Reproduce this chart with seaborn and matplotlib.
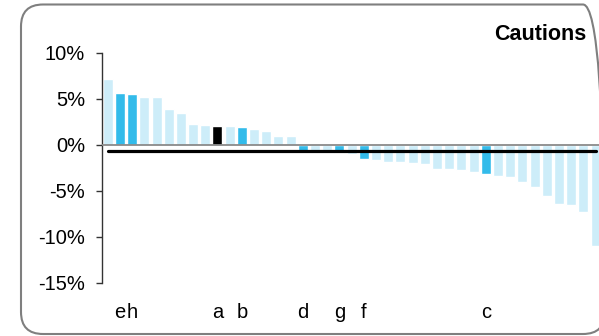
import matplotlib.pyplot as plt
import seaborn as sns
import pandas as pd
from matplotlib.patches import FancyBboxPatch
from matplotlib.ticker import FuncFormatter

# bar values in percent, sorted as in the chart
values = [7.2, 5.65, 5.55, 5.2, 5.2, 3.9, 3.5, 2.3, 2.2, 2.1, 2.1, 2.0, 1.7, 1.5, 1.0, 1.0,
          -0.6, -0.6, -0.65, -0.85, -0.95, -1.5, -1.65, -1.85, -1.85, -1.95,
          -2.05, -2.6, -2.6, -2.7, -2.9, -3.15, -3.4, -3.5, -4.0, -4.6,
          -5.5, -6.4, -6.5, -7.3, -10.95]
# which bars carry a letter label
named = {1: 'e', 2: 'h', 9: 'a', 11: 'b', 16: 'd', 19: 'g', 21: 'f', 31: 'c'}
self_bar = 9
average = -0.62

tick_labels = [named.get(i, '') for i in range(len(values))]
groups = []
for i in range(len(values)):
    if i == self_bar:
        groups.append('self')
    elif i in named:
        groups.append('named')
    else:
        groups.append('peer')

df = pd.DataFrame({'pos': [str(i) for i in range(len(values))], 'value': values, 'group': groups})
colors = {'peer': '#cdedf9', 'named': '#33bbea', 'self': '#000000'}

sns.set_style('white', {'text.color': 'black', 'xtick.color': 'black', 'ytick.color': 'black'})
plt.rcParams['font.family'] = ['Liberation Sans', 'DejaVu Sans']

fig = plt.figure(figsize=(5.99, 3.36), dpi=100)
ax = fig.add_axes([102 / 599, 53 / 336, 500 / 599, 230 / 336])
sns.barplot(data=df, x='pos', y='value', hue='group', palette=colors, dodge=False,
            width=0.82, saturation=1, legend=False, ax=ax)

ax.axhline(0, color='#8a8a8a', lw=1.3, zorder=3)
ax.plot(range(len(values)), [average] * len(values), color='black', lw=2.3, zorder=4)

ax.set_xlim(-0.47, 40.53)
ax.set_ylim(-15, 10)
ax.set_yticks([-15, -10, -5, 0, 5, 10])
ax.yaxis.set_major_formatter(FuncFormatter(lambda v, p: f'{v:.0f}%'))
ax.set_xticks(range(len(values)))
ax.set_xticklabels(tick_labels)
ax.set_xlabel('')
ax.set_ylabel('')

for s in ['top', 'right', 'bottom']:
    ax.spines[s].set_visible(False)
ax.spines['left'].set_color('#333333')
ax.spines['left'].set_linewidth(1)
ax.tick_params(axis='y', length=4.3, width=1, color='#333333', labelcolor='black',
               pad=8, labelsize=14.5, left=True)
ax.tick_params(axis='x', length=0, pad=14.5, labelsize=14.5, labelcolor='black')

fig.text(586 / 599, 1 - 34.5 / 336, 'Cautions', ha='right', va='center',
         fontsize=15.5, fontweight='bold', color='black')

fig.patches.append(FancyBboxPatch((0.21, 0.02), 5.84, 3.295,
                                  boxstyle='round,pad=0,rounding_size=0.22',
                                  transform=fig.dpi_scale_trans, fill=False,
                                  edgecolor='#7f7f7f', lw=1.5))

plt.savefig('out.png', dpi=100)
